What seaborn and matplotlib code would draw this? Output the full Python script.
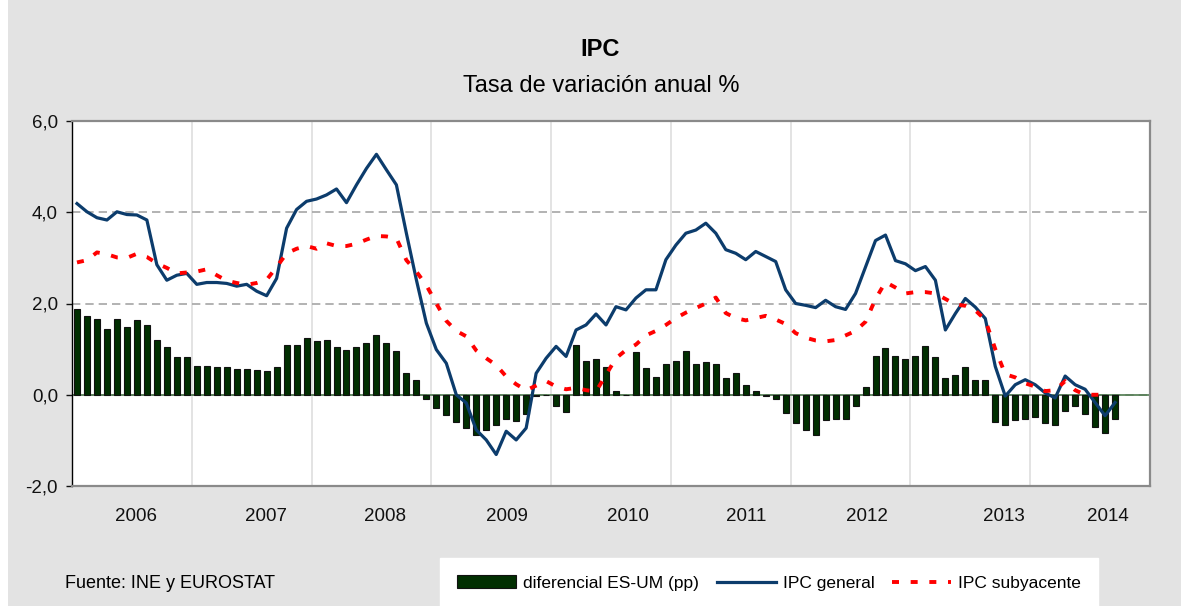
import numpy as np
import pandas as pd
import matplotlib
matplotlib.use('Agg')
import matplotlib.pyplot as plt
from matplotlib.patches import Patch, Rectangle
from matplotlib.lines import Line2D
from matplotlib.ticker import FuncFormatter
import seaborn as sns

# datos mensuales, ene-2006 a sep-2014
meses = pd.date_range('2006-01-01', periods=105, freq='MS')

diferencial = [1.87, 1.73, 1.66, 1.45, 1.66, 1.49, 1.63, 1.52, 1.21, 1.04, 0.82, 0.82, 0.64, 0.64, 0.61, 0.61, 0.57, 0.57,
               0.55, 0.51, 0.61, 1.10, 1.10, 1.24, 1.17, 1.21, 1.04, 0.99, 1.04, 1.14, 1.31, 1.14, 0.96, 0.47, 0.33, -0.10,
               -0.28, -0.45, -0.60, -0.73, -0.88, -0.77, -0.67, -0.53, -0.57, -0.42, -0.03, 0.0, -0.25, -0.38, 1.10, 0.75, 0.78, 0.61,
               0.09, 0.0, 0.93, 0.58, 0.40, 0.68, 0.75, 0.96, 0.68, 0.72, 0.68, 0.36, 0.47, 0.22, 0.09, -0.03, -0.10, -0.39,
               -0.63, -0.78, -0.88, -0.56, -0.53, -0.53, -0.25, 0.16, 0.86, 1.03, 0.86, 0.78, 0.86, 1.07, 0.82, 0.36, 0.43, 0.61,
               0.33, 0.33, -0.59, -0.67, -0.56, -0.53, -0.49, -0.63, -0.67, -0.35, -0.25, -0.42, -0.70, -0.84, -0.53]

ipc_general = [4.19, 4.01, 3.88, 3.83, 4.01, 3.95, 3.94, 3.83, 2.85, 2.51, 2.62, 2.66, 2.42, 2.46, 2.46, 2.44, 2.38, 2.42,
               2.27, 2.17, 2.55, 3.65, 4.06, 4.24, 4.29, 4.38, 4.51, 4.21, 4.60, 4.96, 5.27, 4.93, 4.60, 3.54, 2.52, 1.57,
               0.99, 0.69, 0.0, -0.18, -0.77, -0.99, -1.31, -0.80, -0.99, -0.73, 0.47, 0.80, 1.06, 0.84, 1.42, 1.53, 1.77, 1.53,
               1.93, 1.86, 2.12, 2.30, 2.30, 2.96, 3.28, 3.54, 3.61, 3.76, 3.54, 3.18, 3.10, 2.96, 3.14, 3.03, 2.92, 2.30,
               2.00, 1.96, 1.91, 2.07, 1.93, 1.87, 2.22, 2.80, 3.38, 3.50, 2.94, 2.87, 2.72, 2.81, 2.51, 1.42, 1.78, 2.11,
               1.92, 1.67, 0.62, -0.03, 0.22, 0.33, 0.22, 0.04, -0.07, 0.41, 0.22, 0.12, -0.17, -0.46, -0.17]

ipc_subyacente = [2.90, 2.95, 3.12, 3.08, 3.01, 3.00, 3.09, 3.02, 2.88, 2.78, 2.66, 2.68, 2.70, 2.75, 2.62, 2.50, 2.45, 2.41,
                  2.45, 2.52, 2.80, 3.10, 3.20, 3.26, 3.20, 3.32, 3.26, 3.26, 3.31, 3.40, 3.48, 3.47, 3.43, 2.95, 2.70, 2.40,
                  2.00, 1.62, 1.40, 1.28, 0.97, 0.80, 0.65, 0.40, 0.23, 0.10, 0.20, 0.30, 0.18, 0.12, 0.15, 0.10, 0.07, 0.44,
                  0.80, 0.98, 1.10, 1.30, 1.40, 1.53, 1.68, 1.80, 1.90, 2.00, 2.13, 1.79, 1.68, 1.63, 1.68, 1.73, 1.65, 1.55,
                  1.35, 1.25, 1.19, 1.17, 1.20, 1.30, 1.40, 1.60, 2.10, 2.47, 2.35, 2.22, 2.25, 2.25, 2.22, 2.10, 1.98, 1.95,
                  1.85, 1.64, 1.00, 0.45, 0.38, 0.25, 0.18, 0.08, 0.10, 0.30, 0.10, 0.0, 0.0, 0.0, np.nan]

anios = ['2006', '2007', '2008', '2009', '2010', '2011', '2012', '2013', '2014']
# donde Excel dejo las etiquetas de año (en meses desde ene-2006)
pos_anios = [5.9, 18.9, 30.9, 43.1, 55.2, 67.0, 79.1, 92.9, 103.3]

df = pd.DataFrame({'mes': meses, 'n': np.arange(len(meses)), 'diferencial': diferencial,
                   'general': ipc_general, 'subyacente': ipc_subyacente})

verde = '#012f01'
azul = '#0c3c6c'
rojo = '#ff0000'

fig = plt.figure(figsize=(11.81, 6.08), dpi=100, facecolor='white')
plt.rcParams['font.family'] = ['Liberation Sans', 'DejaVu Sans']
fig.patches.append(Rectangle((8 / 1181, 2 / 608), 1, 1, transform=fig.transFigure,
                             facecolor='#e3e3e3', edgecolor='none', zorder=-10))
ax = fig.add_axes([72 / 1181, 1 - 486 / 608, (1150 - 72) / 1181, (486 - 121) / 608])
ax.set_facecolor('white')

sns.barplot(data=df, x='n', y='diferencial', native_scale=True, color=verde, width=0.6,
            edgecolor='#111111', linewidth=0.8, saturation=1, ax=ax, zorder=2)
sns.lineplot(data=df, x='n', y='general', color=azul, lw=2.3, ax=ax, zorder=3)
sns.lineplot(data=df, x='n', y='subyacente', color=rojo, lw=2.8, ax=ax, zorder=4,
             linestyle=(0, (1.8, 3.0)), dash_capstyle='butt')

ax.axhline(0, color='#4e7a4e', lw=1.2, zorder=1.5)

ax.set_xlim(-0.5, 107.5)
ax.set_ylim(-2, 6)
ax.set_yticks([-2, 0, 2, 4, 6])
ax.yaxis.set_major_formatter(FuncFormatter(lambda v, p: f'{v:.1f}'.replace('.', ',')))
ax.set_xticks(pos_anios)
ax.set_xticklabels(anios)
ax.set_xticks(np.arange(11.5, 107, 12), minor=True)
ax.tick_params(axis='x', which='both', length=0, pad=16, labelsize=13.5, colors='#111111')
ax.tick_params(axis='y', length=4, width=1, pad=6, labelsize=13.5, colors='#111111')
ax.set_xlabel('')
ax.set_ylabel('')

ax.grid(axis='x', which='minor', color='#dedede', lw=1.2, zorder=0)
ax.grid(axis='y', which='major', color='#a6a6a6', lw=1.2, ls=(0, (5, 3)), zorder=0)
ax.grid(axis='x', which='major', visible=False)
ax.set_axisbelow(True)

for s in ['top', 'right', 'bottom']:
    ax.spines[s].set_color('#8a8a8a')
    ax.spines[s].set_linewidth(1.6)
ax.spines['left'].set_color('black')
ax.spines['left'].set_linewidth(1.0)

fig.text(0.508, 1 - 50 / 608, 'IPC', ha='center', va='center', fontsize=17, fontweight='bold')
fig.text(0.509, 1 - 86 / 608, 'Tasa de variación anual %', ha='center', va='center', fontsize=17)
fig.text(65 / 1181, 1 - 583 / 608, 'Fuente: INE y EUROSTAT', ha='left', va='center', fontsize=13)

handles = [Patch(facecolor=verde, edgecolor='#111111', lw=0.8),
           Line2D([], [], color=azul, lw=2.3),
           Line2D([], [], color=rojo, lw=2.8, ls=(0, (1.8, 3.0)), dash_capstyle='butt')]
labels = ['diferencial ES-UM (pp)', 'IPC general', 'IPC subyacente']
leg = fig.legend(handles, labels, ncol=3, loc='lower left', bbox_to_anchor=(440 / 1181, 0.0),
                 frameon=True, fancybox=False, framealpha=1, edgecolor='white', facecolor='white',
                 fontsize=12.5, handlelength=3.4, handletextpad=0.4, columnspacing=1.0,
                 borderpad=1.0, borderaxespad=0)

fig.savefig('out.png', dpi=100, facecolor=fig.get_facecolor())
